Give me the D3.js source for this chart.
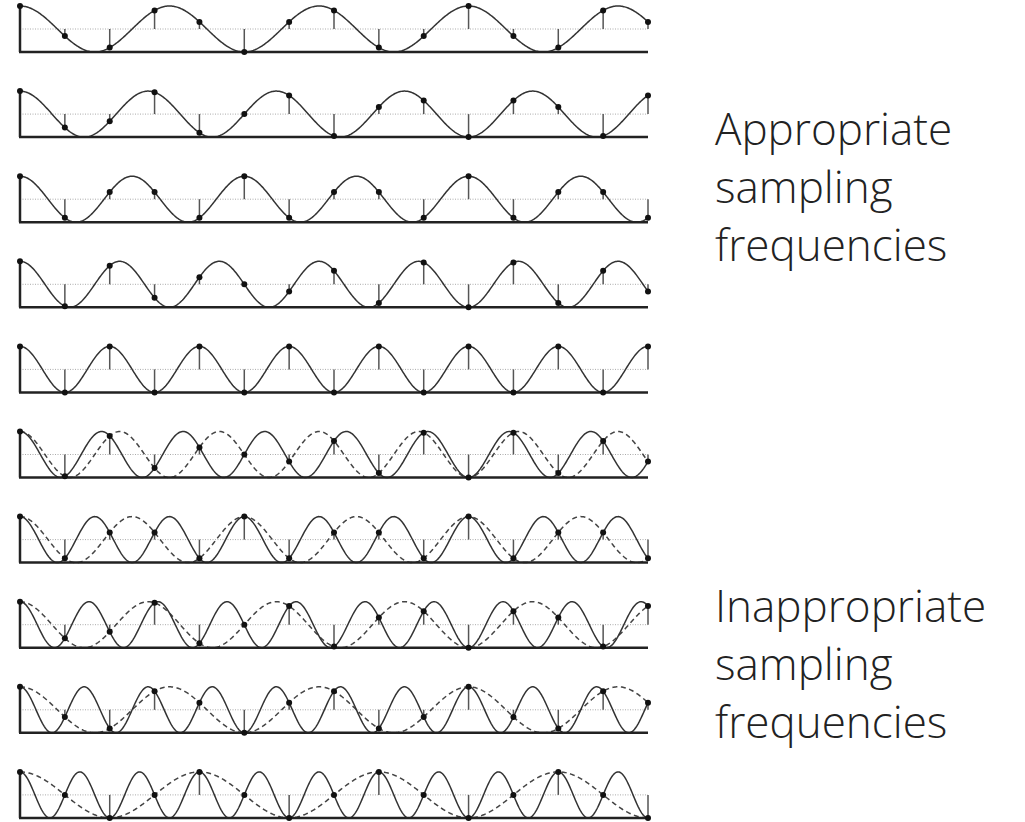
<!DOCTYPE html>
<html>
<head>
<meta charset="utf-8">
<script src="https://cdn.jsdelivr.net/npm/d3@7"></script>
<style>
  body { margin: 0; background: #fff; }
  svg { display: block; }
</style>
</head>
<body>
<div class="drawingArea"></div>
<script>
// signal frequency of each row, in cycles per sample
var signalFreqs = [0.3, 0.35, 0.4, 0.45, 0.5, 0.55, 0.6, 0.65, 0.7, 0.75];
// alias seen by the samples (dashed), only for the undersampled rows
var aliasFreqs = [null, null, null, null, null, 0.45, 0.4, 0.35, 0.3, 0.25];
var sampleCount = 15;

var labelTop = ["Appropriate", "sampling", "frequencies"];
var labelBottom = ["Inappropriate", "sampling", "frequencies"];

var width = 1025;
var height = 822;

//row layout
var firstBase = 52;
var rowStep = 85.1;
var rowHeight = 46;

var svg = d3.select(".drawingArea").append("svg:svg")
    .attr("width", width)
    .attr("height", height);

var x = d3.scaleLinear()
    .domain([0, sampleCount - 1])
    .range([20, 648]);

var curveSteps = d3.range(0, sampleCount - 1 + 0.001, 0.02);

signalFreqs.forEach(function(f, i) {
    var base = firstBase + i * rowStep;
    var y = d3.scaleLinear().domain([-1, 1]).range([base, base - rowHeight]);
    var row = svg.append("g").attr("class", "row" + i);

    // dotted middle line
    row.append("line")
        .attr("x1", x(0)).attr("x2", x(sampleCount - 1))
        .attr("y1", y(0)).attr("y2", y(0))
        .attr("stroke", "#aaa")
        .attr("stroke-width", 1)
        .attr("stroke-dasharray", "1,1.5");

    var line = d3.line()
        .x(function(d) { return x(d[0]); })
        .y(function(d) { return y(d[1]); })
        .curve(d3.curveLinear);

    if (aliasFreqs[i] !== null) {
        var fa = aliasFreqs[i];
        row.append("path")
            .attr("d", line(curveSteps.map(function(t) { return [t, Math.cos(2 * Math.PI * fa * t)]; })))
            .attr("fill", "none")
            .attr("stroke", "#444")
            .attr("stroke-width", 1.5)
            .attr("stroke-dasharray", "5,3.5");
    }

    row.append("path")
        .attr("d", line(curveSteps.map(function(t) { return [t, Math.cos(2 * Math.PI * f * t)]; })))
        .attr("fill", "none")
        .attr("stroke", "#333")
        .attr("stroke-width", 1.5);

    var samples = d3.range(sampleCount).map(function(n) {
        return { n: n, v: Math.cos(2 * Math.PI * f * n) };
    });

    // stems from the middle line
    row.selectAll(".stem").data(samples).enter().append("line")
        .attr("class", "stem")
        .attr("x1", function(d) { return x(d.n); })
        .attr("x2", function(d) { return x(d.n); })
        .attr("y1", y(0))
        .attr("y2", function(d) { return y(d.v); })
        .attr("stroke", "#555")
        .attr("stroke-width", 1.5);

    // axes
    row.append("line")
        .attr("x1", x(0) - 1).attr("x2", x(sampleCount - 1))
        .attr("y1", base).attr("y2", base)
        .attr("stroke", "#222")
        .attr("stroke-width", 2.5);
    row.append("line")
        .attr("x1", x(0)).attr("x2", x(0))
        .attr("y1", y(1)).attr("y2", base)
        .attr("stroke", "#222")
        .attr("stroke-width", 2.5);

    row.selectAll(".dot").data(samples).enter().append("circle")
        .attr("class", "dot")
        .attr("cx", function(d) { return x(d.n); })
        .attr("cy", function(d) { return y(d.v); })
        .attr("r", 3)
        .attr("fill", "#111");
});

function addLabel(lines, top) {
    var t = svg.append("text")
        .attr("x", 715)
        .attr("y", top)
        .attr("font-family", "'Open Sans', sans-serif")
        .attr("font-weight", 300)
        .attr("font-size", 44)
        .attr("fill", "#222");
    lines.forEach(function(s, k) {
        t.append("tspan").attr("x", 715).attr("y", top + k * 58).text(s);
    });
}

addLabel(labelTop, 145);
addLabel(labelBottom, 622);
</script>
</body>
</html>
